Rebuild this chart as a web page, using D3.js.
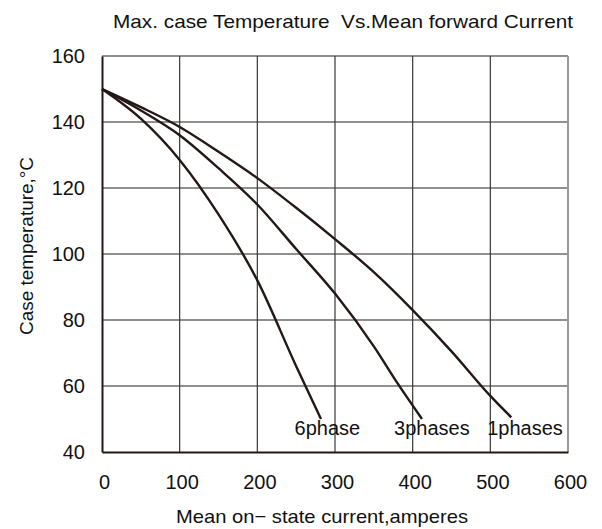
<!DOCTYPE html>
<html><head><meta charset="utf-8">
<script src="https://cdn.jsdelivr.net/npm/d3@7"></script>
<style>body{margin:0;background:#fff}svg{display:block}text{font-family:"Liberation Sans",Arial,sans-serif;fill:#111}</style>
</head><body><svg id="c" width="602" height="529"></svg>
<script>
const xTicks = [0,100,200,300,400,500,600];
const yTicks = [40,60,80,100,120,140,160];
const series1 = [[0,150],[50,144.5],[100,138.5],[150,131],[200,123],[250,114],[300,104.5],[350,94.5],[400,83],[450,70.5],[500,57],[527,50.5]];
const series3 = [[0,150],[50,143.5],[100,136],[150,126],[200,115],[250,101.5],[300,88],[350,72],[380,61],[412,50]];
const series6 = [[0,150],[50,141],[100,128.5],[150,112],[200,92],[250,66],[282,50]];
const seriesNames = ["1phases","3phases","6phase"];
const labelPos = [[496,45.3],[376,45.3],[248,45.3]];
const title = "Max. case Temperature  Vs.Mean forward Current";
const xTitle = "Mean on\u2212 state current,amperes";
const yTitle = "Case temperature,\u00B0C";

const svg = d3.select("#c");
const m = {l:102, r:34, t:56, b:77};
const W = 602, H = 529;
const x = d3.scaleLinear().domain([0,600]).range([m.l, W-m.r]);
const y = d3.scaleLinear().domain([40,160]).range([H-m.b, m.t]);

// horizontal grid
svg.append("g").selectAll("line").data(yTicks.slice(1)).join("line")
  .attr("x1", x(0)).attr("x2", x(600)).attr("y1", d=>y(d)).attr("y2", d=>y(d))
  .attr("stroke","#6e6a6a").attr("stroke-width",1.6);
// vertical grid
svg.append("g").selectAll("line").data(xTicks.slice(1,-1)).join("line")
  .attr("y1", y(40)).attr("y2", y(160)).attr("x1", d=>x(d)).attr("x2", d=>x(d))
  .attr("stroke","#3a3636").attr("stroke-width",1.2);
// right border
svg.append("line").attr("x1",x(600)).attr("x2",x(600)).attr("y1",y(40)).attr("y2",y(160))
  .attr("stroke","#9a9898").attr("stroke-width",2);
// axes
const xAxis = d3.axisBottom(x).tickValues(xTicks).tickSize(0).tickPadding(23).tickFormat(d3.format("d"));
const gx = svg.append("g").attr("transform",`translate(0,${y(40)})`).call(xAxis);
gx.select(".domain").attr("stroke","#231815").attr("stroke-width",2);
gx.selectAll("text").attr("font-size",20).attr("font-family","Liberation Sans, Arial, sans-serif").style("fill","#111").attr("dx",2);
const yAxis = d3.axisLeft(y).tickValues(yTicks).tickSize(0).tickPadding(17).tickFormat(d3.format("d"));
const gy = svg.append("g").attr("transform",`translate(${x(0)},0)`).call(yAxis);
gy.select(".domain").attr("stroke","#231815").attr("stroke-width",2);
gy.selectAll("text").attr("font-size",20).attr("font-family","Liberation Sans, Arial, sans-serif").style("fill","#111");

const line = d3.line().x(d=>x(d[0])).y(d=>y(d[1])).curve(d3.curveMonotoneX);
[series1, series3, series6].forEach(s=>{
  svg.append("path").attr("d", line(s)).attr("fill","none")
    .attr("stroke","#231815").attr("stroke-width",2.4);
});
seriesNames.forEach((n,i)=>{
  svg.append("text").attr("x", x(labelPos[i][0])).attr("y", y(labelPos[i][1]))
    .attr("font-size",20).text(n);
});

svg.append("text").attr("x",113).attr("y",27.5).attr("font-size",19)
  .style("white-space","pre").attr("textLength",460).attr("lengthAdjust","spacingAndGlyphs").text(title);
svg.append("text").attr("x",176).attr("y",523).attr("font-size",19)
  .attr("textLength",292).attr("lengthAdjust","spacingAndGlyphs").text(xTitle);
svg.append("text").attr("transform",`translate(33,335) rotate(-90)`).attr("font-size",19)
  .attr("textLength",178).attr("lengthAdjust","spacingAndGlyphs").text(yTitle);
</script></body></html>
